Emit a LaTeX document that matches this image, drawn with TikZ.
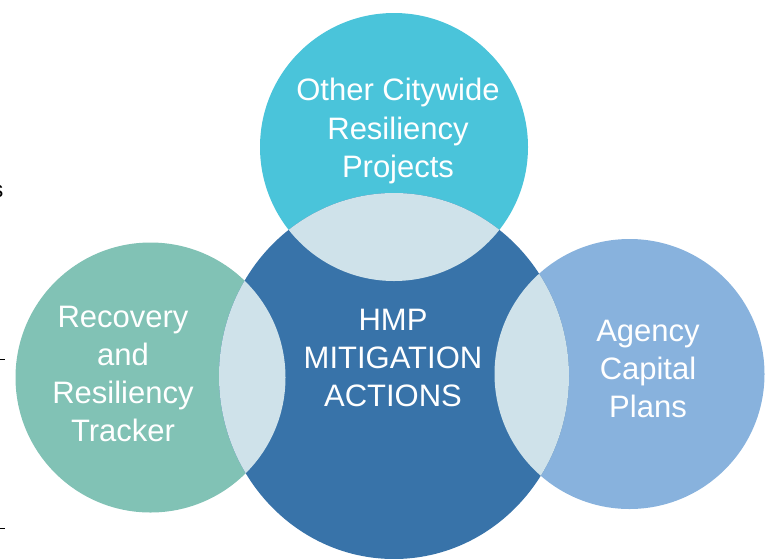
\documentclass[tikz,border=0pt]{standalone}
\usepackage{fontspec}
\setmainfont{Liberation Sans}
\usetikzlibrary{shapes.geometric}
\definecolor{cTop}{HTML}{4AC4DA}
\definecolor{cMid}{HTML}{3873A9}
\definecolor{cLeft}{HTML}{81C2B5}
\definecolor{cRight}{HTML}{88B2DD}
\definecolor{cLens}{HTML}{CFE2EA}
\tikzset{
  disc/.style={circle, inner sep=0pt, minimum size=268pt, draw=none},
  lbl/.style={text=white, align=center, inner sep=0pt, anchor=center,
    font=\fontsize{31}{38.3}\selectfont},
  tick/.style={line width=1pt, black}
}
\begin{document}
\begin{tikzpicture}[x=1pt,y=-1pt]
\useasboundingbox (0,0) rectangle (771,558);
% outer circles
\node[disc, fill=cLeft, minimum size=270pt] (left) at (150.5,377.5) {};
\node[disc, fill=cRight, minimum size=270pt] (right) at (629.5,374) {};
\node[disc, fill=cTop] (top) at (394,147) {};
% centre ellipse
\node[ellipse, inner sep=0pt, minimum width=350pt, minimum height=366pt, fill=cMid] (mid) at (394,376) {};
% lenses
\begin{scope}
  \clip (mid.center) ellipse (175pt and 183pt);
  \fill[cLens] (top.center) circle (134pt);
  \fill[cLens] (left.center) circle (135pt);
  \fill[cLens] (right.center) circle (135pt);
\end{scope}
% labels
\node[lbl] (ttop) at (398,131) {Other Citywide\\Resiliency\\Projects};
\node[lbl] (tleft) at (123,374) {Recovery\\and\\Resiliency\\Tracker};
\node[lbl] (tmid) at (393,358) {HMP\\MITIGATION\\ACTIONS};
\node[lbl] (tright) at (648,369) {Agency\\Capital\\Plans};
% stray marks at left edge
\node[anchor=base east, inner sep=0pt, font=\fontsize{23}{23}\selectfont] (sfrag) at (3.5,197) {s};
\coordinate (d1a) at (0,359); \coordinate (d1b) at (5,359);
\coordinate (d2a) at (0,528); \coordinate (d2b) at (5,528);
\draw[tick] (d1a) -- (d1b);
\draw[tick] (d2a) -- (d2b);
\end{tikzpicture}
\end{document}
